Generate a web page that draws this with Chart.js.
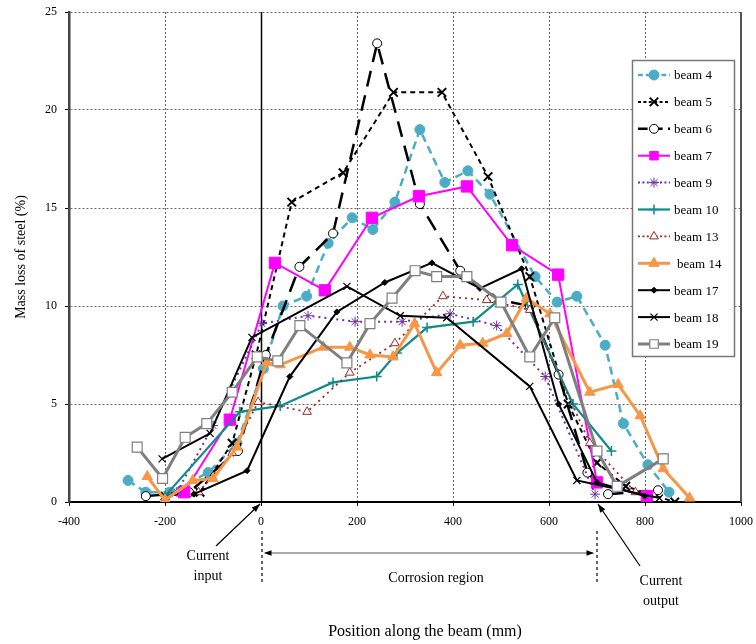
<!DOCTYPE html>
<html>
<head>
<meta charset="utf-8">
<script src="https://cdn.jsdelivr.net/npm/chart.js"></script>
<style>
html,body{margin:0;padding:0;background:#fff;}
#c{display:block;}
</style>
</head>
<body>
<canvas id="c" width="756" height="644" style="width:756px;height:644px"></canvas>
<script>
// ---------- data (positions in mm, mass loss in %) ----------
const beam4X  = [-277, -240, -190, -110, -50, 5, 46, 95, 140, 190, 233, 279, 331, 383, 431, 477, 571, 617, 658, 717, 755, 806, 850];
const beam4Y  = [1.1, 0.5, 0.5, 1.5, 3.0, 6.8, 10.0, 10.5, 13.2, 14.5, 13.9, 15.3, 19.0, 16.3, 16.9, 15.7, 11.5, 10.2, 10.5, 8.0, 4.0, 1.9, 0.5];
const beam5X  = [-200, -127, -60, -10, 64, 171, 276, 377, 473, 560, 640, 700, 760, 862];
const beam5Y  = [0.3, 0.5, 3.0, 7.5, 15.3, 16.8, 20.9, 20.9, 16.6, 11.5, 5.0, 2.0, 0.8, 0.0];
const beam6X  = [-240, -150, -48, 10, 80, 150, 242, 331, 415, 480, 560, 620, 680, 723, 827];
const beam6Y  = [0.3, 0.5, 2.6, 7.5, 12.0, 13.7, 23.4, 15.2, 11.8, 10.4, 10.0, 6.5, 1.5, 0.4, 0.6];
const beam7X  = [-160, -65, 29, 133, 231, 329, 429, 523, 619, 700, 804];
const beam7Y  = [0.5, 4.2, 12.2, 10.8, 14.5, 15.6, 16.1, 13.1, 11.6, 1.0, 0.3];
const beam9X  = [-175, -100, 2, 98, 196, 294, 394, 491, 592, 696];
const beam9Y  = [0.5, 3.9, 9.1, 9.5, 9.2, 9.2, 9.6, 9.0, 6.4, 0.4];
const beam10X = [-200, -44, 40, 150, 241, 283, 346, 442, 535, 650, 730];
const beam10Y = [0.3, 4.6, 4.9, 6.1, 6.4, 7.6, 8.9, 9.2, 11.1, 5.0, 2.6];
const beam13X = [-130, -60, -6, 96, 185, 279, 379, 470, 560, 685, 780];
const beam13Y = [0.5, 2.5, 5.1, 4.6, 6.6, 8.1, 10.5, 10.3, 9.8, 3.0, 0.5];
const beam14X = [-237, -200, -142, -100, -50, 12, 40, 130, 185, 227, 275, 320, 366, 415, 462, 512, 553, 602, 685, 744, 790, 838, 893];
const beam14Y = [1.3, 0.1, 1.1, 1.2, 2.8, 7.1, 7.0, 7.9, 7.9, 7.5, 7.4, 9.1, 6.6, 8.0, 8.1, 8.6, 10.4, 9.6, 5.6, 6.0, 4.4, 1.7, 0.2];
const beam17X = [-140, -29, 60, 158, 258, 356, 456, 543, 620, 700, 800];
const beam17Y = [0.4, 1.6, 6.4, 9.7, 11.2, 12.2, 10.9, 11.9, 5.0, 1.0, 0.3];
const beam18X = [-206, -106, -19, 179, 290, 387, 560, 658, 830];
const beam18Y = [2.2, 3.5, 8.4, 11.0, 9.5, 9.4, 5.9, 1.1, 0.2];
const beam19X = [-258, -205, -158, -113, -60, -8, 35, 81, 179, 227, 273, 321, 366, 429, 500, 560, 612, 700, 742, 838];
const beam19Y = [2.8, 1.2, 3.3, 4.0, 5.6, 7.4, 7.2, 9.0, 7.1, 9.1, 10.4, 11.8, 11.5, 11.5, 10.2, 7.4, 9.4, 2.6, 0.8, 2.2];

const seriesNames = ['beam 4','beam 5','beam 6','beam 7','beam 9','beam 10','beam 13','beam 14','beam 17','beam 18','beam 19'];
const xTicks = [-400, -200, 0, 200, 400, 600, 800, 1000];
const yTicks = [0, 5, 10, 15, 20, 25];
const corrosionStart = 0, corrosionEnd = 700;

// ---------- styles ----------
const styles = [
  {c:'#4BACC6', w:2.5, dash:[8,5], ps:'circle',   r:5,   bg:'#4BACC6', bw:1},
  {c:'#000000', w:2,   dash:[5,4], ps:'crossRot', r:6,   bg:'#000000', bw:2},
  {c:'#000000', w:2.5, dash:[16,9],ps:'circle',   r:4.5, bg:'#ffffff', bw:1},
  {c:'#FF00FF', w:2,   dash:[],    ps:'rect',     r:8,   bg:'#FF00FF', bw:1},
  {c:'#7030A0', w:2,   dash:[2,4], ps:'star',     r:5,   bg:'#7030A0', bw:1},
  {c:'#138A8A', w:2.2, dash:[],    ps:'cross',    r:5,   bg:'#138A8A', bw:1.5},
  {c:'#9B2A2A', w:1.8, dash:[2,4], ps:'triangle', r:5,   bg:'#ffffff', bw:1},
  {c:'#F79646', w:3,   dash:[],    ps:'triangle', r:6,   bg:'#F79646', bw:1},
  {c:'#000000', w:2,   dash:[],    ps:'rectRot',  r:3,   bg:'#000000', bw:1},
  {c:'#000000', w:2,   dash:[],    ps:'crossRot', r:5,   bg:'#000000', bw:1.2},
  {c:'#7F7F7F', w:3,   dash:[],    ps:'rect',     r:7,   bg:'#ffffff', bw:1.2},
];

const xs = [beam4X,beam5X,beam6X,beam7X,beam9X,beam10X,beam13X,beam14X,beam17X,beam18X,beam19X];
const ys = [beam4Y,beam5Y,beam6Y,beam7Y,beam9Y,beam10Y,beam13Y,beam14Y,beam17Y,beam18Y,beam19Y];

const datasets = seriesNames.map((name, i) => ({
  label: name,
  data: xs[i].map((x, k) => ({x: x, y: ys[i][k]})),
  borderColor: styles[i].c,
  borderWidth: styles[i].w,
  borderDash: styles[i].dash,
  pointStyle: styles[i].ps,
  pointRadius: styles[i].r,
  pointBackgroundColor: styles[i].bg,
  pointBorderColor: styles[i].ps === 'rect' && styles[i].bg === '#ffffff' ? '#7F7F7F' : (styles[i].ps==='triangle' && styles[i].bg==='#ffffff' ? '#9B2A2A' : styles[i].c),
  pointBorderWidth: styles[i].bw,
  fill: false,
  tension: 0,
  order: 20 - i
}));

const SERIF = '"Liberation Serif", "DejaVu Serif", serif';

function arrowHead(ctx, x1, y1, x2, y2, size) {
  const a = Math.atan2(y2 - y1, x2 - x1);
  ctx.beginPath();
  ctx.moveTo(x2, y2);
  ctx.lineTo(x2 - size * Math.cos(a - 0.35), y2 - size * Math.sin(a - 0.35));
  ctx.lineTo(x2 - size * Math.cos(a + 0.35), y2 - size * Math.sin(a + 0.35));
  ctx.closePath();
  ctx.fill();
}
function arrow(ctx, x1, y1, x2, y2, size) {
  ctx.beginPath(); ctx.moveTo(x1, y1); ctx.lineTo(x2, y2); ctx.stroke();
  arrowHead(ctx, x1, y1, x2, y2, size);
}

const decor = {
  id: 'decor',
  beforeDatasetsDraw(chart) {
    const {ctx, chartArea: a, scales: {x, y}} = chart;
    ctx.save();
    const x0 = Math.round(x.getPixelForValue(0)) + 0.5;
    ctx.strokeStyle = '#000'; ctx.lineWidth = 1.5;
    ctx.beginPath(); ctx.moveTo(x0, a.top); ctx.lineTo(x0, a.bottom); ctx.stroke();
    ctx.strokeStyle = '#555'; ctx.lineWidth = 2;
    ctx.beginPath(); ctx.moveTo(a.right, a.top); ctx.lineTo(a.right, a.bottom); ctx.stroke();
    ctx.restore();
  },
  afterDraw(chart) {
    const {ctx, chartArea: a, scales: {x, y}} = chart;
    ctx.save();
    ctx.fillStyle = '#000';
    ctx.font = '14px ' + SERIF;
    ctx.textAlign = 'center'; ctx.textBaseline = 'middle';
    ctx.save();
    ctx.translate(21, (a.top + a.bottom) / 2);
    ctx.rotate(-Math.PI / 2);
    ctx.fillText('Mass loss of steel (%)', 0, 0);
    ctx.restore();
    ctx.font = '16px ' + SERIF;
    ctx.fillText('Position along the beam (mm)', 425, 632);

    const xs0 = x.getPixelForValue(corrosionStart);
    const xs1 = x.getPixelForValue(corrosionEnd);
    ctx.strokeStyle = '#000'; ctx.fillStyle = '#000'; ctx.lineWidth = 1.2;
    arrow(ctx, 216, 546, xs0 - 1, a.bottom + 2, 9);
    arrow(ctx, 640, 566, xs1 + 1, a.bottom + 2, 9);
    ctx.setLineDash([3, 3]); ctx.lineWidth = 1.2;
    ctx.beginPath(); ctx.moveTo(xs0 + 1, 531); ctx.lineTo(xs0 + 1, 584); ctx.stroke();
    ctx.beginPath(); ctx.moveTo(xs1, 531); ctx.lineTo(xs1, 584); ctx.stroke();
    ctx.setLineDash([]);
    ctx.lineWidth = 1;
    ctx.strokeStyle = '#555'; ctx.fillStyle = '#000';
    ctx.beginPath(); ctx.moveTo(xs0 + 4, 553); ctx.lineTo(xs1 - 4, 553); ctx.stroke();
    arrowHead(ctx, xs1, 553, xs0 + 3, 553, 8);
    arrowHead(ctx, xs0, 553, xs1 - 3, 553, 8);
    ctx.fillStyle = '#000';
    ctx.font = '14px ' + SERIF;
    ctx.textAlign = 'center'; ctx.textBaseline = 'middle';
    ctx.fillText('Current', 208, 556);
    ctx.fillText('input', 208, 576);
    ctx.fillText('Corrosion region', 436, 578);
    ctx.fillText('Current', 661, 581);
    ctx.fillText('output', 661, 601);

    const L = 632, T = 60, R = 734, B = 356;
    ctx.fillStyle = '#fff';
    ctx.fillRect(L, T, R - L, B - T);
    ctx.strokeStyle = '#777'; ctx.lineWidth = 1.5;
    ctx.strokeRect(L + 0.5, T + 0.5, R - L, B - T);
    ctx.font = '13px ' + SERIF;
    ctx.textAlign = 'left'; ctx.textBaseline = 'middle';
    seriesNames.forEach((name, i) => {
      const st = styles[i];
      const yy = 75 + i * 26.9;
      ctx.save();
      ctx.strokeStyle = st.c; ctx.lineWidth = st.w;
      ctx.setLineDash(st.dash.length ? st.dash.map(v => Math.max(2, v * 0.6)) : []);
      ctx.beginPath(); ctx.moveTo(638, yy); ctx.lineTo(670, yy); ctx.stroke();
      ctx.setLineDash([]);
      const ds = chart.data.datasets[i];
      ctx.fillStyle = st.bg;
      ctx.strokeStyle = ds.pointBorderColor;
      ctx.lineWidth = st.bw;
      if (Chart.helpers && Chart.helpers.drawPoint) {
        Chart.helpers.drawPoint(ctx, {pointStyle: st.ps, rotation: 0, radius: Math.min(st.r, 6), borderWidth: st.bw}, 654, yy);
      }
      ctx.restore();
      ctx.fillStyle = '#000';
      ctx.fillText(name, name === 'beam 14' ? 677 : 674, yy + 1);
    });
    ctx.restore();
  }
};

new Chart(document.getElementById('c'), {
  type: 'line',
  data: { datasets },
  options: {
    responsive: false,
    animation: false,
    events: [],
    layout: { padding: { top: 12, right: 15, bottom: 112, left: 0 } },
    plugins: { legend: { display: false }, tooltip: { enabled: false } },
    scales: {
      x: {
        type: 'linear', min: -400, max: 1000,
        afterBuildTicks: s => { s.ticks = xTicks.map(v => ({value: v})); },
        afterFit: s => { s.height = 30; s.paddingLeft = 0; s.paddingRight = 0; },
        ticks: { color: '#000', font: { family: SERIF, size: 12 }, padding: 9, maxRotation: 0, autoSkip: false,
                 callback: v => String(v) },
        grid: { color: '#666', lineWidth: 1, drawTicks: true, tickLength: 4, tickColor: '#000' },
        border: { display: true, color: '#000', width: 2, dash: [2, 2] }
      },
      y: {
        type: 'linear', min: 0, max: 25,
        afterBuildTicks: s => { s.ticks = yTicks.map(v => ({value: v})); },
        afterFit: s => { s.width = 69; s.paddingTop = 0; s.paddingBottom = 0; },
        ticks: { color: '#000', font: { family: SERIF, size: 12 }, padding: 8, callback: v => String(v) },
        grid: { color: '#666', lineWidth: 1, drawTicks: true, tickLength: 4, tickColor: '#000' },
        border: { display: true, color: '#444', width: 2.5, dash: [2, 2] }
      }
    }
  },
  plugins: [decor]
});
</script>
</body>
</html>
